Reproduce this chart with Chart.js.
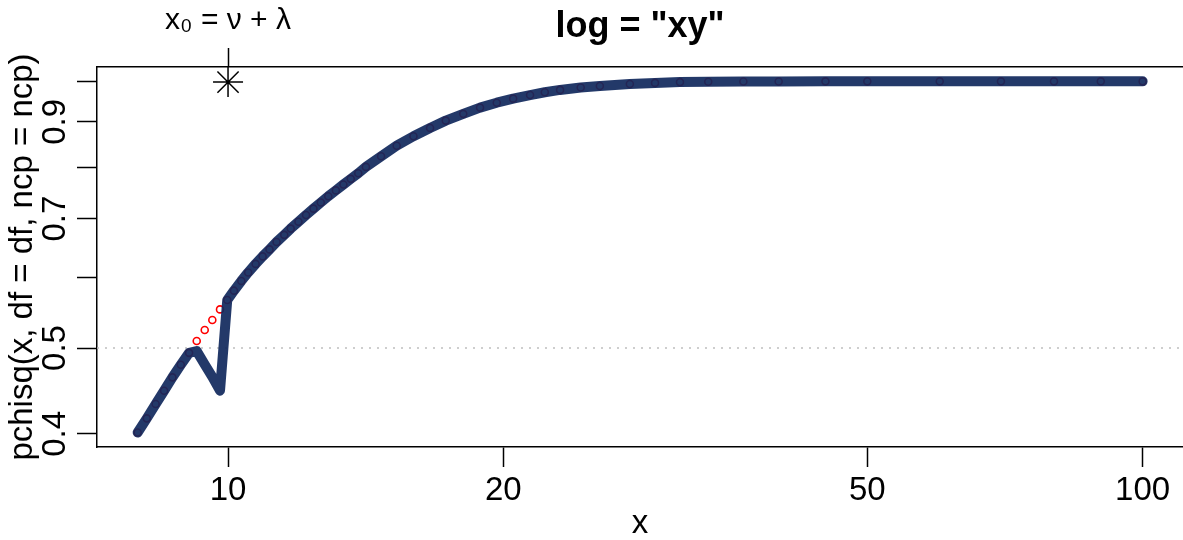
<!DOCTYPE html>
<html>
<head>
<meta charset="utf-8">
<script src="https://cdn.jsdelivr.net/npm/chart.js@4.4.1/dist/chart.umd.min.js"></script>
<style>
  html, body { margin: 0; padding: 0; background: #fff; }
  canvas { display: block; }
</style>
</head>
<body>
<canvas id="myChart" width="1183" height="540"></canvas>
<script>
// x grid shared by both curves
const xValues = [
  7.965, 8.15, 8.334, 8.513, 8.693, 8.879, 9.066, 9.242, 9.43, 9.612,
  9.80, 9.98, 10.15, 10.34, 10.52, 10.72, 10.91, 11.10, 11.30, 11.52,
  11.71, 11.94, 12.17, 12.40, 12.63, 12.87, 13.12, 13.37, 13.62, 13.88,
  14.15, 14.7, 15.29, 15.95, 16.63, 17.3, 18.08, 18.86, 19.67, 20.5,
  21.39, 22.2, 23.07, 24.3, 25.5, 27.5, 29.3, 31.2, 33.5, 36.6,
  40, 45, 50, 60, 70, 80, 90, 100
];
// red circles (exact values)
const exactP = [
  0.4014, 0.4165, 0.4323, 0.4475, 0.4633, 0.4787, 0.4938, 0.5092, 0.5239, 0.5377,
  0.5528, 0.5664, 0.5804, 0.5952, 0.6085, 0.6222, 0.6345, 0.6461, 0.6587, 0.6710,
  0.6820, 0.6943, 0.7066, 0.7183, 0.7298, 0.7418, 0.7532, 0.7649, 0.7761, 0.7875,
  0.8006, 0.823, 0.846, 0.867, 0.886, 0.903, 0.919, 0.934, 0.946, 0.956,
  0.965, 0.972, 0.978, 0.984, 0.988, 0.993, 0.996, 0.998, 0.999, 0.9995,
  0.9998, 1, 1, 1, 1, 1, 1, 1
];
// thick blue line (approximation, with the dip before x0)
const approxP = [
  0.4014, 0.4165, 0.4323, 0.4475, 0.4633, 0.4787, 0.4938, 0.496, 0.479, 0.464,
  0.4476, 0.5664, 0.5804, 0.5952, 0.6085, 0.6222, 0.6345, 0.6461, 0.6587, 0.6710,
  0.6820, 0.6943, 0.7066, 0.7183, 0.7298, 0.7418, 0.7532, 0.7649, 0.7761, 0.7875,
  0.8006, 0.823, 0.846, 0.867, 0.886, 0.903, 0.919, 0.934, 0.946, 0.956,
  0.965, 0.972, 0.978, 0.984, 0.988, 0.993, 0.996, 0.998, 0.999, 0.9995,
  0.9998, 1, 1, 1, 1, 1, 1, 1
];
const xTicks = [10, 20, 50, 100];
const yTicks = [0.4, 0.5, 0.6, 0.7, 0.8, 0.9, 1.0];
const yLabeled = [0.4, 0.5, 0.7, 0.9];
const refLevel = 0.5;
const x0 = 10;
const x0Height = 0.998;

const xMin = 7.19, xMax = 110.7;
const yMin = 0.3866, yMax = 1.038;
const fam = '"Liberation Sans", Arial, Helvetica, sans-serif';

const ctx = document.getElementById('myChart');

const tickGrid = {
  drawOnChartArea: false,
  drawTicks: true,
  tickLength: 20,
  tickColor: '#000',
  tickWidth: 1.5
};
const axisBorder = { display: true, color: '#000', width: 1.5 };

// keep the plot box where R put it
const noPadX = s => { s.paddingLeft = 0; s.paddingRight = 0; };
const noPadY = s => { s.paddingTop = 0; s.paddingBottom = 0; };

new Chart(ctx, {
  type: 'line',
  data: {
    datasets: [
      {
        label: 'x0',
        type: 'scatter',
        data: [{ x: x0, y: x0Height }],
        pointStyle: 'star',
        pointRadius: 15,
        pointBorderColor: '#000',
        pointBorderWidth: 1.5,
        clip: false,
        order: 0
      },
      {
        label: 'approx',
        data: xValues.map((x, i) => ({ x: x, y: approxP[i] })),
        borderColor: 'rgba(16, 40, 92, 0.92)',
        borderWidth: 10,
        borderCapStyle: 'round',
        borderJoinStyle: 'round',
        pointRadius: 0,
        order: 1
      },
      {
        label: 'exact',
        data: xValues.map((x, i) => ({ x: x, y: exactP[i] })),
        showLine: false,
        pointRadius: 3.5,
        pointBorderColor: 'red',
        pointBorderWidth: 1.6,
        pointBackgroundColor: 'rgba(0,0,0,0)',
        order: 2
      },
      {
        label: 'ref',
        data: [{ x: xMin, y: refLevel }, { x: xMax, y: refLevel }],
        borderColor: '#BEBEBE',
        borderWidth: 1.5,
        borderDash: [2, 6],
        pointRadius: 0,
        order: 3
      }
    ]
  },
  options: {
    responsive: false,
    animation: false,
    devicePixelRatio: 1,
    layout: { padding: 0, autoPadding: false },
    plugins: {
      legend: { display: false },
      tooltip: { enabled: false },
      title: { display: false }
    },
    scales: {
      x: {
        type: 'logarithmic',
        position: 'bottom',
        min: xMin,
        max: xMax,
        afterBuildTicks: s => { s.ticks = xTicks.map(v => ({ value: v })); },
        afterFit: s => { s.height = 93; noPadX(s); },
        ticks: {
          autoSkip: false,
          minRotation: 0,
          maxRotation: 0,
          padding: 4,
          color: '#000',
          font: { family: fam, size: 33 },
          callback: v => String(v)
        },
        grid: tickGrid,
        border: axisBorder,
        title: {
          display: true,
          text: 'x',
          color: '#000',
          font: { family: fam, size: 33, lineHeight: 1 },
          padding: { top: 0, bottom: 0 }
        }
      },
      x2: {
        type: 'logarithmic',
        axis: 'x',
        position: 'top',
        min: xMin,
        max: xMax,
        afterBuildTicks: s => { s.ticks = [{ value: x0 }]; },
        afterFit: s => { s.height = 67; noPadX(s); },
        ticks: {
          autoSkip: false,
          minRotation: 0,
          maxRotation: 0,
          padding: 9,
          color: '#000',
          font: { family: fam, size: 30 },
          callback: () => 'x\u2080 = \u03BD + \u03BB'
        },
        grid: Object.assign({}, tickGrid, { tickLength: 19 }),
        border: axisBorder,
        title: {
          display: true,
          text: 'log = "xy"',
          color: '#000',
          font: { family: fam, size: 36, weight: 'bold', lineHeight: 1 },
          padding: { top: 9, bottom: 0 }
        }
      },
      y: {
        type: 'logarithmic',
        position: 'left',
        min: yMin,
        max: yMax,
        afterBuildTicks: s => { s.ticks = yTicks.map(v => ({ value: v })); },
        afterFit: s => { s.width = 97; noPadY(s); },
        ticks: {
          autoSkip: false,
          minRotation: 90,
          maxRotation: 90,
          crossAlign: 'center',
          padding: -2,
          color: '#000',
          font: { family: fam, size: 33 },
          callback: v => (yLabeled.includes(v) ? String(v) : '')
        },
        grid: tickGrid,
        border: axisBorder,
        title: {
          display: true,
          text: 'pchisq(x, df = df, ncp = ncp)',
          color: '#000',
          font: { family: fam, size: 33, lineHeight: 1 },
          padding: { top: 6, bottom: 0 }
        }
      }
    }
  }
});
</script>
</body>
</html>
